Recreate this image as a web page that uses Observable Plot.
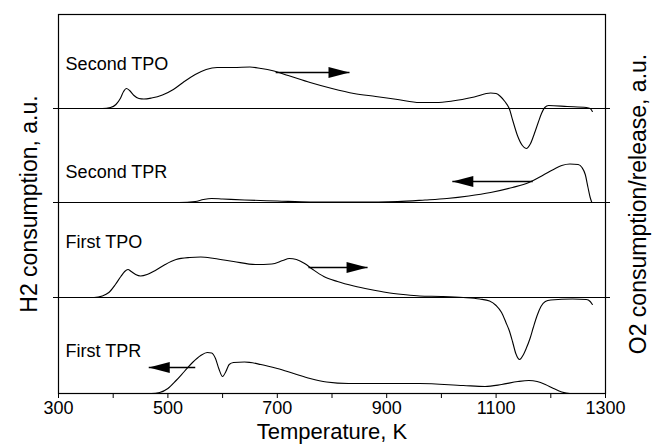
<!DOCTYPE html>
<html>
<head>
<meta charset="utf-8">
<script src="https://cdn.jsdelivr.net/npm/d3@7"></script>
<script src="https://cdn.jsdelivr.net/npm/@observablehq/plot@0.6"></script>
<style>
  html, body { margin: 0; padding: 0; background: white; }
</style>
</head>
<body>
<div id="chart"></div>
<script>
// ---- data (temperature K, signal a.u. above each trace's baseline) ----
const tickValues = [300, 400, 500, 600, 700, 800, 900, 1000, 1100, 1200, 1300];
const tickLabels = ["300", "", "500", "", "700", "", "900", "", "1100", "", "1300"];

const seriesNames   = ["First TPR", "First TPO", "Second TPR", "Second TPO"];
const seriesOffsets = [0, 96, 191, 285];       // vertical offset of each stacked trace
const labelLevels   = [42, 55, 30, 44];        // label height above its baseline
const arrowFrom     = [550, 757, 1167, 697];   // arrow tail temperature
const arrowTo       = [465, 865, 1020, 832];   // arrow tip temperature
const arrowLevel    = [26, 30, 21, 36];        // arrow height above baseline

const firstTPR = [
  [300,0],[470,0],[485,1],[500,5],[515,13],[530,22],[545,31],[560,38],[572,41],[580,40.5],
  [587,35],[593,25],[600,17],[606,22],[612,29],[620,31],[640,31.5],[670,29],[700,25],[730,20],
  [760,15],[790,11.5],[830,10],[900,10],[960,10],[1040,8],[1080,7],[1110,9],[1140,12],[1160,13],
  [1175,12],[1190,9],[1205,5],[1220,1.5],[1235,0],[1300,0]
];
const firstTPO = [
  [300,0],[365,0],[380,1.5],[392,5],[404,13],[414,21],[421,26],[427,28],[433,26],[441,23],
  [450,21.5],[462,23],[477,27],[495,33],[515,38],[540,40],[560,40.5],[585,39],[620,36],[660,33],
  [690,33.5],[710,37],[722,39],[735,38],[750,34],[765,28],[785,21],[810,16],[840,11.5],[870,8],
  [900,5],[930,3],[960,1.5],[1000,1],[1040,0],[1070,-1.5],[1088,-3.5],[1100,-8],[1110,-15],
  [1118,-25],[1124,-33],[1130,-44],[1136,-56],[1143,-62],[1149,-58],[1155,-51],[1162,-41],
  [1168,-30],[1175,-18],[1182,-9],[1190,-4],[1200,-2.5],[1240,-1.5],[1265,-2],[1272,-4],[1276,-7]
];
const secondTPR = [
  [300,0],[520,0],[550,1],[565,3],[580,4],[600,3.5],[640,2.5],[700,1.5],[760,0.5],[850,0.5],
  [920,1],[970,2.5],[1010,4],[1050,6.5],[1090,10],[1130,15],[1160,20],[1185,27],[1205,33],
  [1220,37],[1235,38.5],[1250,38],[1257,35],[1263,28],[1268,15],[1272,5],[1275,0]
];
const secondTPO = [
  [300,0],[380,0],[395,1],[405,4],[413,10],[419,17],[424,20],[430,18],[438,13],[447,10],
  [456,9.5],[470,10.5],[490,13.5],[510,19],[530,27],[550,34],[570,39],[590,41],[620,41],
  [650,41.5],[670,40],[690,38],[720,33],[760,26],[800,20],[840,15],[880,12],[920,9],[960,6],
  [990,6],[1020,7.5],[1060,11.5],[1090,15.5],[1100,15],[1108,12],[1116,7],[1124,0],[1131,-13],
  [1139,-27],[1148,-37],[1155,-40],[1163,-35],[1170,-25],[1177,-14],[1183,-5],[1189,1],
  [1196,3],[1230,2],[1265,1],[1272,0],[1276,-3]
];
const seriesValues = [firstTPR, firstTPO, secondTPR, secondTPO];

// ---- tables built from the arrays ----
const traces = seriesValues.flatMap((pts, i) =>
  pts.map(([T, v]) => ({series: seriesNames[i], T, y: seriesOffsets[i] + v})));
const labels = seriesNames.map((name, i) => ({name, T: 313, y: seriesOffsets[i] + labelLevels[i]}));
const arrows = seriesNames.map((name, i) => ({
  x1: arrowFrom[i], x2: arrowTo[i], y: seriesOffsets[i] + arrowLevel[i],
  rotate: arrowTo[i] < arrowFrom[i] ? 180 : 0
}));
const innerBaselines = seriesOffsets.slice(1);

// filled elongated arrow head, tip at origin, pointing right
const arrowHead = {
  draw(context) {
    context.moveTo(0, 0);
    context.lineTo(-21, -5.5);
    context.lineTo(-21, 5.5);
    context.closePath();
  }
};

const font = "'Liberation Sans', Arial, Helvetica, sans-serif";

const chart = Plot.plot({
  width: 652,
  height: 447,
  marginLeft: 58,
  marginRight: 47,
  marginTop: 14,
  marginBottom: 54,
  style: {fontFamily: font, background: "white", color: "black"},
  x: {domain: [300, 1300]},
  y: {domain: [0, 379], axis: null},
  marks: [
    Plot.frame({stroke: "black", strokeWidth: 1.2}),
    Plot.ruleY(innerBaselines, {stroke: "black", strokeWidth: 1.2, insetLeft: -5, insetRight: -5}),
    Plot.axisX({
      ticks: tickValues,
      tickFormat: (d) => tickLabels[tickValues.indexOf(d)],
      tickSize: 5,
      tickPadding: 3,
      fontSize: 18,
      label: null
    }),
    Plot.line(traces, {x: "T", y: "y", z: "series", curve: "monotone-x", stroke: "black", strokeWidth: 1.1}),
    Plot.link(arrows, {x1: "x1", x2: "x2", y1: "y", y2: "y", stroke: "black", strokeWidth: 1.5}),
    Plot.dot(arrows, {x: "x2", y: "y", symbol: arrowHead, rotate: "rotate", fill: "black", stroke: "none"}),
    Plot.text(labels, {x: "T", y: "y", text: "name", textAnchor: "start", fontSize: 18, fill: "black"}),
    Plot.text(["Temperature, K"], {text: d => d, frameAnchor: "bottom", textAnchor: "middle", dy: 45, fontSize: 22, fill: "black"}),
    Plot.text(["H2 consumption, a.u."], {text: d => d, frameAnchor: "left", textAnchor: "middle", dx: -28.4, rotate: -90, fontSize: 23, fill: "black"}),
    Plot.text(["O2 consumption/release, a.u."], {text: d => d, frameAnchor: "right", textAnchor: "middle", dx: 33.6, rotate: -90, fontSize: 23, fill: "black"})
  ]
});
document.getElementById("chart").appendChild(chart);
</script>
</body>
</html>
